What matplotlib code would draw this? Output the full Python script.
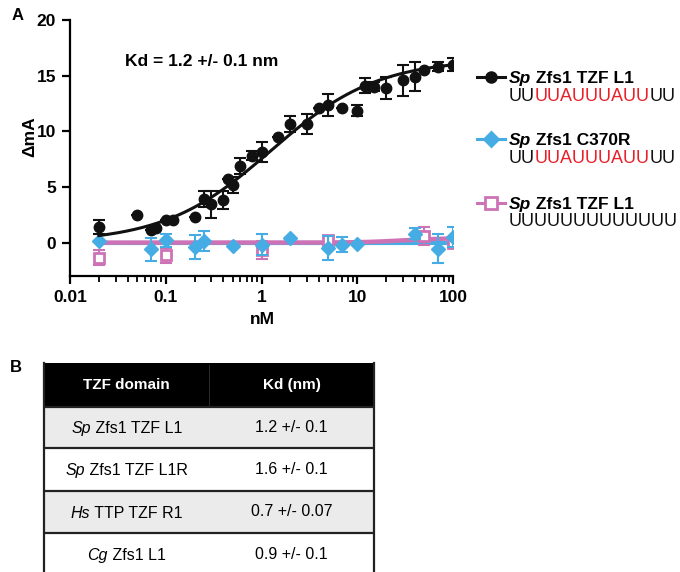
import numpy as np
import matplotlib
matplotlib.use("Agg")
import matplotlib.pyplot as plt
from matplotlib.ticker import FixedLocator, FixedFormatter, LogLocator, NullFormatter
from matplotlib.patches import Rectangle

plt.rcParams['font.family'] = ['Liberation Sans', 'DejaVu Sans']

# ---- panel A data ----
wt_x = [0.02, 0.05, 0.07, 0.08, 0.1, 0.12, 0.2, 0.25, 0.3, 0.4, 0.45, 0.5, 0.6, 0.8, 1.0,
        1.5, 2, 3, 4, 5, 7, 10, 12, 15, 20, 30, 40, 50, 70, 100]
wt_y = [1.4, 2.45, 1.1, 1.3, 2.0, 2.05, 2.3, 3.9, 3.45, 3.85, 5.75, 5.2, 6.9, 7.8, 8.15,
        9.45, 10.65, 10.65, 12.1, 12.35, 12.1, 11.85, 14.1, 14.0, 13.9, 14.6, 14.9, 15.55, 15.8, 16.0]
wt_err = [0.6, 0, 0, 0, 0, 0, 0, 0.7, 1.2, 0.8, 0, 0.7, 0.7, 0.4, 0.9,
          0, 0.7, 0.9, 0, 1.0, 0, 0.5, 0.7, 0.4, 1.0, 1.4, 1.3, 0, 0.4, 0.6]

mut_x = [0.02, 0.07, 0.1, 0.2, 0.25, 0.5, 1.0, 2, 5, 7, 10, 40, 70, 100]
mut_y = [0.1, -0.6, 0.2, -0.4, 0.15, -0.33, -0.18, 0.45, -0.48, -0.18, -0.09, 0.8, -0.54, 0.5]
mut_err = [0, 1.05, 0.55, 1.1, 0.9, 0, 0.95, 0, 1.05, 0.65, 0, 0.5, 1.3, 0.9]

polyu_x = [0.02, 0.1, 1.0, 5, 50, 100]
polyu_y = [-1.35, -1.15, -0.7, 0.2, 0.6, 0.0]
polyu_err = [0.68, 0.7, 0.8, 0.4, 0.8, 0.4]

# Hill fit parameters (bottom, top, Kd, n)
wt_fit = (0.0, 16.5, 1.25, 0.78)
mut_fit = (0.0, 0.0, 1.0, 1.0)
polyu_fit = (0.0, 0.4, 30.0, 2.0)

# ---- panel B table ----
table_header = ["TZF domain", "Kd (nm)"]
table_species = ["Sp", "Sp", "Hs", "Cg"]
table_names = [" Zfs1 TZF L1", " Zfs1 TZF L1R", " TTP TZF R1", " Zfs1 L1"]
table_kd = ["1.2 +/- 0.1", "1.6 +/- 0.1", "0.7 +/- 0.07", "0.9 +/- 0.1"]

BLACK = "#111111"
BLUE = "#46ADE4"
PINK = "#CD73B5"
RED = "#E8202A"

W, H = 680, 572
fig = plt.figure(figsize=(W / 100, H / 100), dpi=100)


def fx(x):
    return x / W


def fy(y):
    return 1 - y / H


def hill(x, p):
    b, t, kd, n = p
    return b + (t - b) * x ** n / (kd ** n + x ** n)


ax = fig.add_axes([fx(70), fy(276), fx(453 - 70), (276 - 20) / H])
ax.set_xscale("log")
ax.set_xlim(0.01, 100)
ax.set_ylim(-3, 20)

xs = np.logspace(np.log10(0.02), 2, 300)
ax.plot(xs, hill(xs, mut_fit), color=BLUE, lw=3, zorder=2)
ax.plot(xs, hill(xs, polyu_fit), color=PINK, lw=3.2, zorder=3)
ax.plot(xs, hill(xs, wt_fit), color=BLACK, lw=2.2, zorder=6)

ax.errorbar(polyu_x, polyu_y, yerr=polyu_err, fmt="none", ecolor=PINK, elinewidth=1.5,
            capsize=4.5, capthick=1.5, zorder=4)
ax.plot(polyu_x, polyu_y, ls="none", marker="s", ms=7, mfc="white", mec=PINK, mew=2, zorder=4)

ax.errorbar(mut_x, mut_y, yerr=mut_err, fmt="none", ecolor=BLUE, elinewidth=1.5,
            capsize=4.5, capthick=1.5, zorder=5)
ax.plot(mut_x, mut_y, ls="none", marker="D", ms=7, color=BLUE, zorder=5)

ax.errorbar(wt_x, wt_y, yerr=wt_err, fmt="none", ecolor=BLACK, elinewidth=1.5,
            capsize=4.5, capthick=1.5, zorder=7)
ax.plot(wt_x, wt_y, ls="none", marker="o", ms=7.5, color=BLACK, zorder=7)

for s in ["top", "right"]:
    ax.spines[s].set_visible(False)
for s in ["left", "bottom"]:
    ax.spines[s].set_linewidth(1.6)

ax.xaxis.set_major_locator(FixedLocator([0.01, 0.1, 1, 10, 100]))
ax.xaxis.set_major_formatter(FixedFormatter(["0.01", "0.1", "1", "10", "100"]))
ax.xaxis.set_minor_locator(LogLocator(base=10, subs=np.arange(2, 10)))
ax.xaxis.set_minor_formatter(NullFormatter())
ax.set_yticks([0, 5, 10, 15, 20])
ax.tick_params(axis="both", which="major", direction="out", length=6, width=1.6,
               labelsize=12.5, pad=4)
ax.tick_params(axis="x", which="minor", direction="out", length=4, width=1.3)
for lab in ax.get_xticklabels() + ax.get_yticklabels():
    lab.set_fontweight("bold")

fig.text(fx(30), fy(137), "ΔmA", rotation=90, ha="center", va="center",
         fontsize=12.5, fontweight="bold")
fig.text(fx(262), fy(319), "nM", ha="center", va="center", fontsize=12.5, fontweight="bold")
fig.text(fx(125), fy(61), "Kd = 1.2 +/- 0.1 nm", ha="left", va="center",
         fontsize=12.5, fontweight="bold")
fig.text(fx(12), fy(16), "A", ha="left", va="center", fontsize=12, fontweight="bold")
fig.text(fx(10), fy(367), "B", ha="left", va="center", fontsize=12, fontweight="bold")

renderer = fig.canvas.get_renderer()


def text_run(x_px, y_px, parts, fontsize, center_x=None):
    # pieces of text placed one after another on a common baseline;
    # y_px is the visual centre of the capitals
    base = y_px + 0.716 * fontsize * 100 / 72 / 2
    made = []
    x = x_px
    for s, style in parts:
        t = fig.text(fx(x), fy(base), s, ha="left", va="baseline", fontsize=fontsize, **style)
        bb = t.get_window_extent(renderer)
        made.append((t, x))
        x += bb.width
    if center_x is not None:
        shift = center_x - (x_px + x) / 2
        for t, x0 in made:
            t.set_x(fx(x0 + shift))


# ---- legend ----
leg_rows = [(77, 95, BLACK, "o", BLACK, ("UU", "UUAUUUAUU", "UU")),
            (139, 157, BLUE, "D", BLUE, ("UU", "UUAUUUAUU", "UU")),
            (203, 220, PINK, "s", "white", ("UUUUUUUUUUUUU", "", ""))]
leg_labels = [" Zfs1 TZF L1", " Zfs1 C370R", " Zfs1 TZF L1"]
lax = fig.add_axes([0, 0, 1, 1])
lax.set_xlim(0, W)
lax.set_ylim(H, 0)
lax.axis("off")
for (y1, y2, col, mk, mfc, seq), lab in zip(leg_rows, leg_labels):
    lax.plot([477, 505], [y1, y1], color=col, lw=2.2)
    lax.plot([491], [y1], marker=mk, ms=7 if mk != "s" else 8, color=col, mfc=mfc,
             mec=col, mew=2)
    text_run(509, y1, [("Sp", dict(fontstyle="italic", fontweight="bold")),
                       (lab, dict(fontweight="bold"))], 12.5)
    text_run(509, y2, [(seq[0], dict(color=BLACK)), (seq[1], dict(color=RED)),
                       (seq[2], dict(color=BLACK))], 13)

# ---- table ----
tx0, tx1, tmid = 44, 374, 209
header_top, header_bot = 363, 407
row_edges = [407, 448, 491, 533, 576]
lax.add_patch(Rectangle((tx0, header_top), tx1 - tx0, header_bot - header_top,
                        facecolor="black", edgecolor="none"))
lax.plot([tmid, tmid], [header_top + 2, header_bot - 2], color="#333333", lw=0.6)
for txt, cx in zip(table_header, [(tx0 + tmid) / 2, (tmid + tx1) / 2]):
    lax.text(cx, (header_top + header_bot) / 2, txt, color="white", ha="center",
             va="center", fontsize=11, fontweight="bold")
for i in range(len(table_kd)):
    top, bot = row_edges[i], row_edges[i + 1]
    fc = "#EBEBEB" if i % 2 == 0 else "white"
    lax.add_patch(Rectangle((tx0, top), tx1 - tx0, bot - top, facecolor=fc,
                            edgecolor="none", clip_on=False))
    lax.plot([tx0, tx1], [top, top], color="#222222", lw=1.6, solid_capstyle="butt")
    cy = (top + bot) / 2
    text_run(0, cy, [(table_species[i], dict(fontstyle="italic")),
                     (table_names[i], dict())], 11.5, center_x=(tx0 + tmid) / 2)
    lax.text((tmid + tx1) / 2, cy, table_kd[i], ha="center", va="center", fontsize=11.5)
lax.plot([tx0, tx0], [header_top, H], color="#222222", lw=1.6)
lax.plot([tx1, tx1], [header_top, H], color="#222222", lw=1.6)

fig.savefig("out.png", dpi=100)
